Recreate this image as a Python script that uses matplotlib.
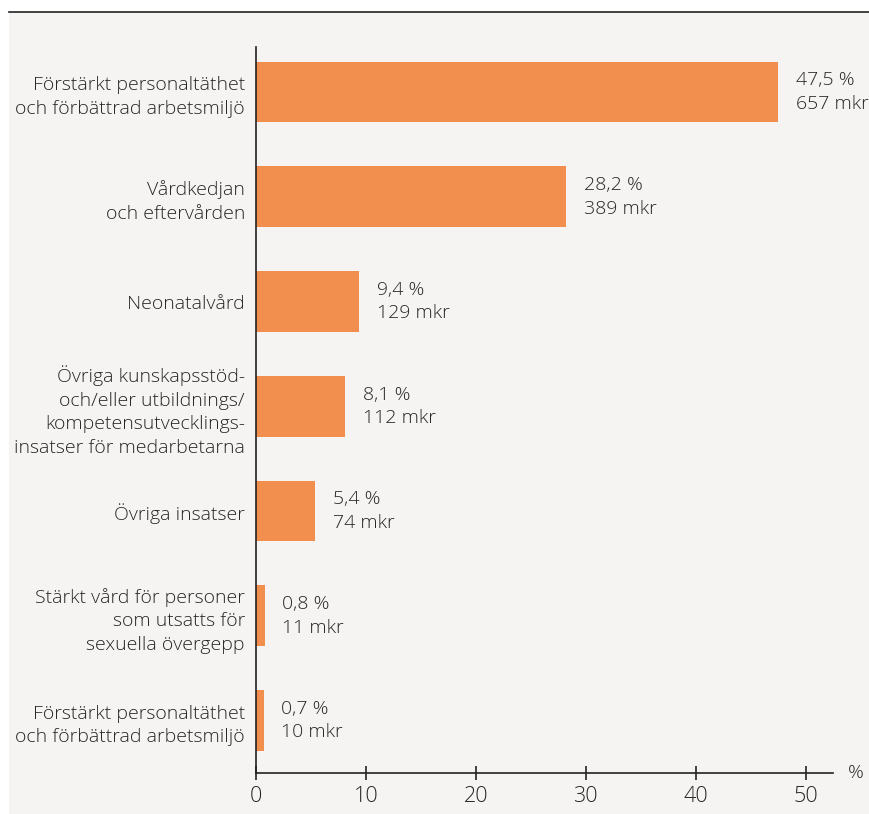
import matplotlib
matplotlib.use('Agg')
import matplotlib.pyplot as plt
from matplotlib.patches import Rectangle
from matplotlib.lines import Line2D

categories = [
    'Förstärkt personaltäthet\noch förbättrad arbetsmiljö',
    'Vårdkedjan\noch eftervården',
    'Neonatalvård',
    'Övriga kunskapsstöd-\noch/eller utbildnings/\nkompetensutvecklings-\ninsatser för medarbetarna',
    'Övriga insatser',
    'Stärkt vård för personer\nsom utsatts för\nsexuella övergepp',
    'Förstärkt personaltäthet\noch förbättrad arbetsmiljö',
]
percent = [47.5, 28.2, 9.4, 8.1, 5.4, 0.8, 0.7]
mkr = [657, 389, 129, 112, 74, 11, 10]
xticks = [0, 10, 20, 30, 40, 50]

plt.rcParams['font.family'] = ['Open Sans', 'DejaVu Sans']
plt.rcParams['font.weight'] = 'light'
TXT = '#262626'
BAR = '#f28f4e'
BG = '#f5f4f2'
FS = 14

fig = plt.figure(figsize=(8.7, 8.14), dpi=100)
fig.patch.set_facecolor('white')
fig.patches.append(Rectangle((9 / 870, 0), 1 - 9 / 870, 1 - 12 / 814,
                             transform=fig.transFigure, facecolor=BG,
                             edgecolor='none', zorder=-5))
fig.lines.append(Line2D([9 / 870, 1], [1 - 12 / 814] * 2,
                        transform=fig.transFigure, color='#222222', lw=1.2))

ax = fig.add_axes([256 / 870, 41 / 814, (833 - 256) / 870, (773 - 47) / 814])
ax.set_facecolor('none')

ypos = list(range(len(categories)))
ax.barh(ypos, percent, height=0.58, color=BAR, zorder=2)
for y, p, m in zip(ypos, percent, mkr):
    ax.text(p + 1.6, y, f'{p:.1f} %'.replace('.', ',') + f'\n{m} mkr',
            va='center', ha='left', fontsize=FS, color=TXT, linespacing=1.4)

ax.set_yticks(ypos)
ax.set_yticklabels(categories, fontsize=FS, color=TXT, linespacing=1.4)
ax.tick_params(axis='y', length=0, pad=8)
ax.set_ylim(len(categories) - 0.5, -0.43)
ax.set_xlim(0, 52.5)
ax.set_xticks(xticks)
ax.set_xticklabels([str(t) for t in xticks], fontsize=15.5, color=TXT)
ax.tick_params(axis='x', direction='inout', length=10, width=1.2, pad=4,
               color='#222222')
for s in ['top', 'right']:
    ax.spines[s].set_visible(False)
for s in ['left', 'bottom']:
    ax.spines[s].set_color('#222222')
    ax.spines[s].set_linewidth(1.2)
ax.text(1.025, 0, '%', transform=ax.transAxes, fontsize=FS, color=TXT,
        ha='left', va='center')

fig.savefig('out.png', dpi=100, facecolor=fig.get_facecolor())
